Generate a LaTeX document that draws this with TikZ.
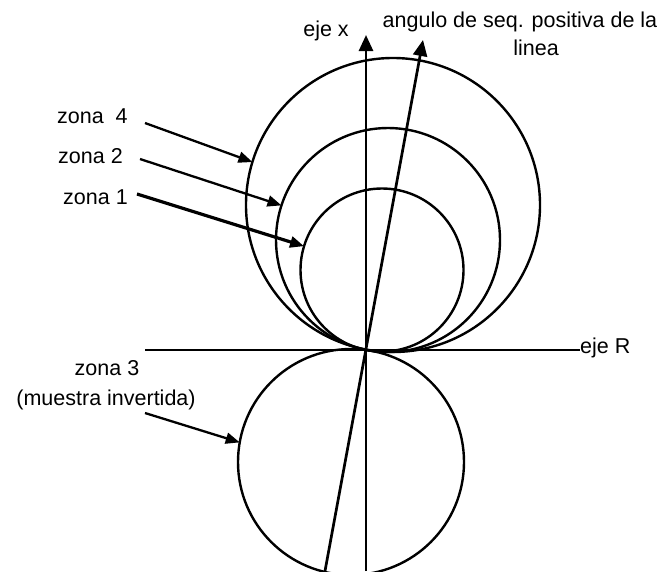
\documentclass[tikz,border=0pt]{standalone}
\usepackage{fontspec}
\setmainfont{Liberation Sans}
\usetikzlibrary{arrows.meta}
\begin{document}
\begin{tikzpicture}[x=1pt,y=-1pt,
  lbl/.style={inner sep=0pt, font=\fontsize{21.5}{26}\selectfont},
  zonecircle/.style={circle, draw, line width=2.4pt, inner sep=0pt, outer sep=0pt},
  axis/.style={line width=2.7pt},
  bigtip/.style={-{Triangle[length=16pt,width=14pt]}},
  ptr/.style={line width=2.3pt, -{Triangle[length=14pt,width=11pt]}}]
\useasboundingbox (0,0) rectangle (660,571);
% coordinates
\coordinate (O) at (366,350);
\coordinate (xtop) at (366,35);
\coordinate (xbot) at (366,571);
\coordinate (Rleft) at (145,350);
\coordinate (atop) at (423,40);
\coordinate (abot) at (325,571);
% circles
\node[zonecircle, minimum size=294pt] (z4) at (393,205) {};
\node[zonecircle, minimum size=224pt] (z2) at (388,240) {};
\node[zonecircle, minimum size=163pt] (z1) at (382,270) {};
\node[zonecircle, minimum size=226pt] (z3) at (351,462) {};
% labels
\node[lbl, anchor=base] (ex) at (326,36) {eje x};
\node[lbl, anchor=base] (ang1) at (520,27) {angulo de seq. positiva de la};
\node[lbl, anchor=base] (ang2) at (536,55) {linea};
\node[lbl, anchor=base west] (eR) at (580,353) {eje R};
\node[lbl, anchor=base west] (l4) at (57,123) {zona\ \ 4};
\node[lbl, anchor=base west] (l2) at (58,163) {zona 2};
\node[lbl, anchor=base west] (l1) at (63,204) {zona 1};
\node[lbl, anchor=base] (l3) at (107,375) {zona 3};
\node[lbl, anchor=base] (l3b) at (106,405) {(muestra invertida)};
% axes
\draw[axis] (Rleft) -- (eR.base west |- O);
\draw[axis, bigtip] (xbot) -- (xtop);
\draw[axis, bigtip] (abot) -- (atop);
% pointer arrows
\coordinate (s4) at (145,123);
\coordinate (s2) at (140,159);
\coordinate (s1) at (137,194);
\coordinate (s3) at (145,413);
\draw[ptr] (s4) -- (z4.163);
\draw[ptr] (s2) -- (z2.162);
\draw[ptr, line width=3.2pt] (s1) -- (z1.163);
\draw[ptr] (s3) -- (z3.170);
\end{tikzpicture}
\end{document}
